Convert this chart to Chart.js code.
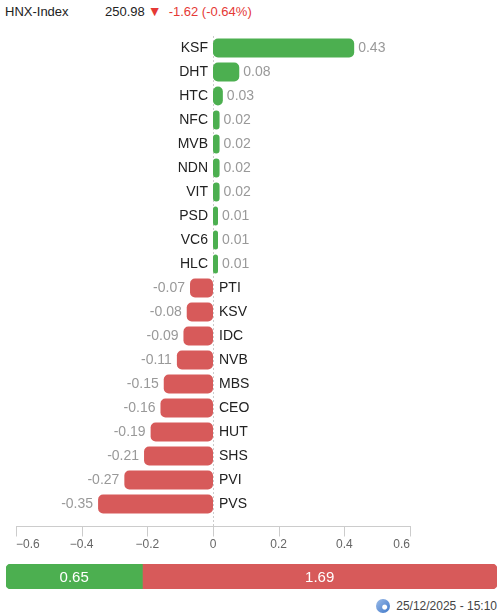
<!DOCTYPE html>
<html>
<head>
<meta charset="utf-8">
<script src="https://cdn.jsdelivr.net/npm/chart.js@4.4.1/dist/chart.umd.min.js"></script>
<style>
  html, body { margin: 0; padding: 0; background: #fff; }
  body { width: 501px; height: 616px; position: relative; overflow: hidden; font-family: "Liberation Sans", Arial, sans-serif; }
  .head { position: absolute; top: 3px; left: 5px; font-size: 13px; color: #222; white-space: nowrap; }
  .head .idx { display: inline-block; width: 100px; }
  .head .down { color: #e53935; }
  .head .tri { color: #e53935; font-size: 14px; margin: 0 7px 0 3px; }
  #main { position: absolute; top: 0; left: 0; }
  #breadth { position: absolute; top: 564px; left: 6px; }
  .foot { position: absolute; top: 599px; right: 4px; font-size: 12px; color: #444; white-space: nowrap; }
  .foot .ico { display: inline-block; width: 14px; height: 14px; border-radius: 50%; vertical-align: -3px; margin-right: 6px;
    background: radial-gradient(circle at 62% 58%, #fff 0 2px, transparent 3px), linear-gradient(135deg, #9bbbe8, #3f78c9); }
</style>
</head>
<body>
<div class="head"><span class="idx">HNX-Index</span>250.98<span class="tri">&#9660;</span><span class="down">-1.62 (-0.64%)</span></div>
<canvas id="main" width="501" height="556"></canvas>
<canvas id="breadth" width="491" height="25"></canvas>
<div class="foot"><span class="ico"></span>25/12/2025 - 15:10</div>

<script>
const tickers = ['KSF', 'DHT', 'HTC', 'NFC', 'MVB', 'NDN', 'VIT', 'PSD', 'VC6', 'HLC',
                 'PTI', 'KSV', 'IDC', 'NVB', 'MBS', 'CEO', 'HUT', 'SHS', 'PVI', 'PVS'];
const impacts = [0.43, 0.08, 0.03, 0.02, 0.02, 0.02, 0.02, 0.01, 0.01, 0.01,
                 -0.07, -0.08, -0.09, -0.11, -0.15, -0.16, -0.19, -0.21, -0.27, -0.35];
const xTicks = [-0.6, -0.4, -0.2, 0, 0.2, 0.4, 0.6];

const breadthLabels = ['up', 'down'];
const breadthValues = [0.65, 1.69];

const GREEN = '#4caf50';
const RED = '#d75a5a';

// dashed zero line, bottom axis line with ticks, and bar labels
const impactLabels = {
  id: 'impactLabels',
  beforeDatasetsDraw(chart) {
    const { ctx, chartArea } = chart;
    const x = chart.scales.x;
    const zero = Math.round(x.getPixelForValue(0)) + 0.5;
    const axisY = chartArea.bottom + 10.5;
    ctx.save();
    ctx.strokeStyle = '#ccc';
    ctx.lineWidth = 1;
    ctx.setLineDash([2, 2]);
    ctx.beginPath();
    ctx.moveTo(zero, chartArea.top);
    ctx.lineTo(zero, axisY);
    ctx.stroke();
    ctx.setLineDash([]);
    ctx.beginPath();
    ctx.moveTo(chartArea.left, axisY);
    ctx.lineTo(chartArea.right + 1, axisY);
    xTicks.forEach(v => {
      const px = Math.round(x.getPixelForValue(v)) + 0.5;
      ctx.moveTo(px, axisY);
      ctx.lineTo(px, axisY + 10);
    });
    ctx.stroke();
    ctx.restore();
  },
  afterDatasetsDraw(chart) {
    const { ctx } = chart;
    const zero = chart.scales.x.getPixelForValue(0);
    const bars = chart.getDatasetMeta(0).data;
    ctx.save();
    ctx.font = '14px "Liberation Sans", Arial, sans-serif';
    ctx.textBaseline = 'middle';
    bars.forEach((bar, i) => {
      const v = impacts[i];
      const y = bar.y;
      if (v >= 0) {
        ctx.fillStyle = '#222';
        ctx.textAlign = 'right';
        ctx.fillText(tickers[i], zero - 5, y);
        ctx.fillStyle = '#999';
        ctx.textAlign = 'left';
        ctx.fillText(v.toFixed(2), bar.x + 4, y);
      } else {
        ctx.fillStyle = '#222';
        ctx.textAlign = 'left';
        ctx.fillText(tickers[i], zero + 6, y);
        ctx.fillStyle = '#999';
        ctx.textAlign = 'right';
        ctx.fillText(v.toFixed(2), bar.x - 5, y);
      }
    });
    ctx.restore();
  }
};

new Chart(document.getElementById('main'), {
  type: 'bar',
  data: {
    labels: tickers,
    datasets: [{
      data: impacts,
      backgroundColor: impacts.map(v => v >= 0 ? GREEN : RED),
      borderRadius: 5,
      borderSkipped: false,
      minBarLength: 5,
      categoryPercentage: 1,
      barPercentage: 0.79
    }]
  },
  options: {
    indexAxis: 'y',
    responsive: false,
    animation: false,
    layout: { padding: { left: 16, right: 91, top: 36, bottom: 5 } },
    plugins: { legend: { display: false }, tooltip: { enabled: false } },
    scales: {
      x: {
        min: -0.6,
        max: 0.6,
        afterBuildTicks: scale => { scale.ticks = xTicks.map(v => ({ value: v })); },
        afterFit: scale => {
          scale.paddingLeft = 0;
          scale.paddingRight = 0;
          scale.height = 35;
        },
        grid: { display: false, drawTicks: false },
        border: { display: false },
        ticks: {
          padding: 21,
          align: 'inner',
          color: '#666',
          font: { size: 12, family: '"Liberation Sans", Arial, sans-serif' },
          callback: v => v === 0 ? '0' : (v < 0 ? '\u2212' : '') + Math.abs(v).toFixed(1)
        }
      },
      y: { display: false }
    }
  },
  plugins: [impactLabels]
});

// advancers / decliners strip
const breadthText = {
  id: 'breadthText',
  afterDatasetsDraw(chart) {
    const { ctx } = chart;
    ctx.save();
    ctx.font = '15px "Liberation Sans", Arial, sans-serif';
    ctx.fillStyle = '#fff';
    ctx.textAlign = 'center';
    ctx.textBaseline = 'middle';
    chart.data.datasets.forEach((ds, i) => {
      const bar = chart.getDatasetMeta(i).data[0];
      ctx.fillText(breadthValues[i].toFixed(2), (bar.x + bar.base) / 2, bar.y + 1);
    });
    ctx.restore();
  }
};

new Chart(document.getElementById('breadth'), {
  type: 'bar',
  data: {
    labels: [''],
    datasets: [
      { label: breadthLabels[0], data: [breadthValues[0]], backgroundColor: GREEN,
        borderSkipped: false, borderRadius: { topLeft: 5, bottomLeft: 5, topRight: 0, bottomRight: 0 },
        categoryPercentage: 1, barPercentage: 1 },
      { label: breadthLabels[1], data: [breadthValues[1]], backgroundColor: RED,
        borderSkipped: false, borderRadius: { topLeft: 0, bottomLeft: 0, topRight: 5, bottomRight: 5 },
        categoryPercentage: 1, barPercentage: 1 }
    ]
  },
  options: {
    indexAxis: 'y',
    responsive: false,
    animation: false,
    layout: { padding: 0 },
    plugins: { legend: { display: false }, tooltip: { enabled: false } },
    scales: {
      x: { stacked: true, display: false, min: 0, max: breadthValues[0] + breadthValues[1] },
      y: { stacked: true, display: false }
    }
  },
  plugins: [breadthText]
});
</script>
</body>
</html>
